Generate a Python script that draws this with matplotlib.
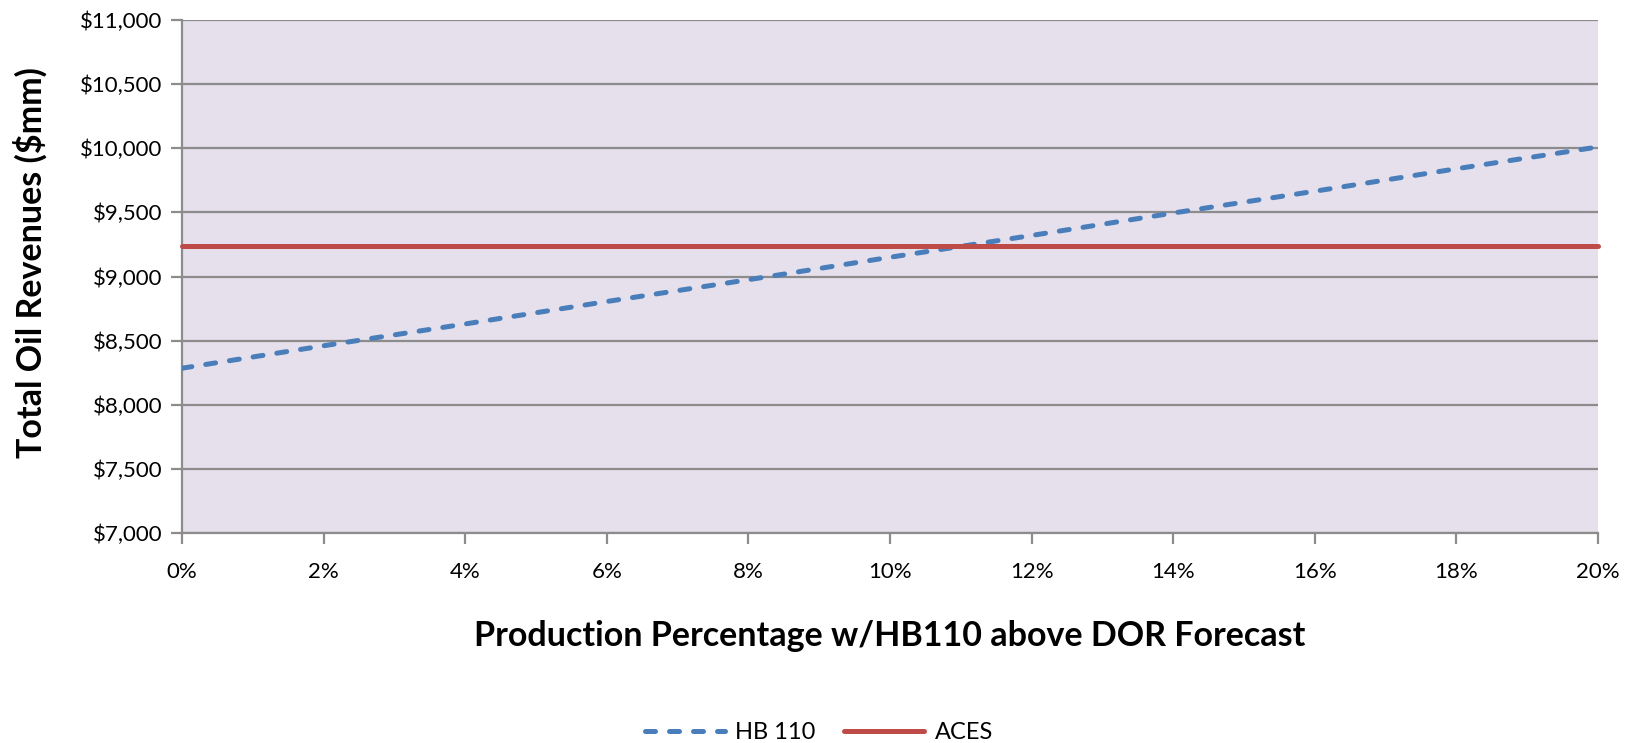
import matplotlib.pyplot as plt
from matplotlib.ticker import FuncFormatter

plt.rcParams['font.family'] = ['Lato', 'DejaVu Sans']

# production increase above DOR forecast (%)
pct = [0, 2, 4, 6, 8, 10, 12, 14, 16, 18, 20]
hb110 = [8285, 8460, 8630, 8805, 8975, 9150, 9320, 9495, 9665, 9840, 10010]
aces = [9235] * len(pct)

fig = plt.figure(figsize=(16.38, 7.43), dpi=100)
ax = fig.add_axes([0.1111, 0.2826, 0.8645, 0.6905])
ax.set_facecolor('#E6E0EC')

grid_col = '#8C8C8C'
ax.plot(pct, hb110, color='#4A7EBB', lw=3.6, dashes=(2.0, 2.8),
        dash_capstyle='round', label='HB 110', zorder=3)
ax.plot(pct, aces, color='#BE4B48', lw=3.6, solid_capstyle='round',
        label='ACES', zorder=3, clip_on=False)

ax.set_xlim(0, 20)
ax.set_ylim(7000, 11000)
ax.set_xticks(range(0, 21, 2))
ax.set_yticks(range(7000, 11001, 500))
ax.xaxis.set_major_formatter(FuncFormatter(lambda v, p: f'{v:.0f}%'))
ax.yaxis.set_major_formatter(FuncFormatter(lambda v, p: f'${v:,.0f}'))

ax.yaxis.grid(True, color=grid_col, lw=1.6)
ax.set_axisbelow(True)
for s in ['top', 'right']:
    ax.spines[s].set_visible(False)
for s in ['left', 'bottom']:
    ax.spines[s].set_color(grid_col)
    ax.spines[s].set_linewidth(1.6)
ax.tick_params(axis='both', colors=grid_col, labelcolor='black',
               labelsize=16, length=8, width=1.6)
ax.tick_params(axis='x', pad=13)
ax.tick_params(axis='y', pad=6)

ax.set_xlabel('Production Percentage w/HB110 above DOR Forecast',
              fontsize=24.5, fontweight='bold', labelpad=27)
ax.set_ylabel('Total Oil Revenues ($mm)', fontsize=24.5, fontweight='bold')
ax.yaxis.set_label_coords(-0.095, 0.528)

fig.legend(loc='center', bbox_to_anchor=(0.5, 0.014), ncol=2,
           frameon=False, fontsize=17, handlelength=3.4, columnspacing=1.2,
           handletextpad=0.45)

fig.savefig('out.png', dpi=100)
